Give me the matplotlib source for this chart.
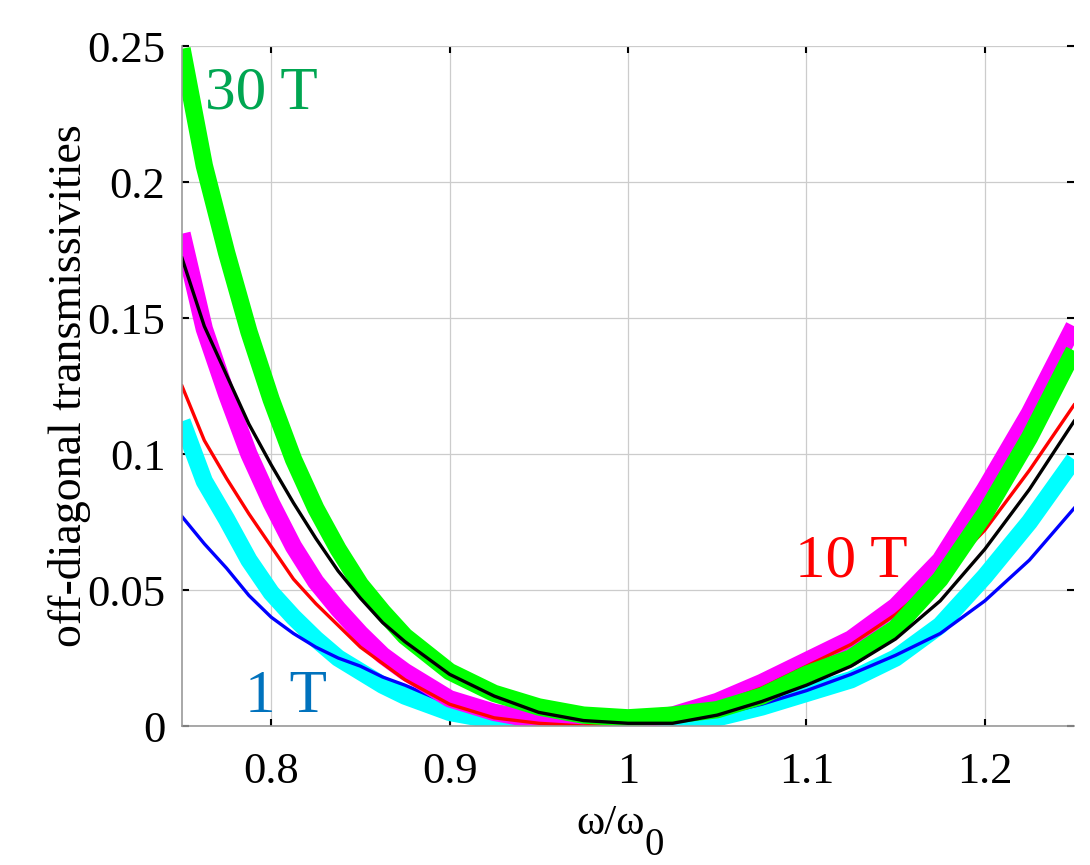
import numpy as np
import matplotlib
matplotlib.use('Agg')
import matplotlib.pyplot as plt

plt.rcParams['font.family'] = ['Liberation Serif', 'DejaVu Serif']

# normalised frequency w/w0
w = [0.75, 0.7625, 0.775, 0.7875, 0.8, 0.8125, 0.825, 0.8375, 0.85, 0.8625, 0.875,
     0.9, 0.925, 0.95, 0.975, 1.0, 1.025, 1.05, 1.075, 1.1, 1.125, 1.15, 1.175,
     1.2, 1.225, 1.25]

# off-diagonal transmissivities
blue = [0.077, 0.067, 0.058, 0.048, 0.040, 0.034, 0.029, 0.025, 0.022, 0.018, 0.015,
        0.008, 0.004, 0.002, 0.001, 0.001, 0.002, 0.004, 0.008, 0.013, 0.019, 0.026,
        0.034, 0.046, 0.061, 0.080]
cyan = [0.112, 0.090, 0.076, 0.061, 0.049, 0.040, 0.032, 0.025, 0.020, 0.015, 0.011,
        0.005, 0.002, 0.000, 0.000, 0.000, 0.001, 0.003, 0.007, 0.012, 0.017, 0.025,
        0.037, 0.055, 0.075, 0.098]
red = [0.125, 0.105, 0.091, 0.078, 0.066, 0.054, 0.045, 0.037, 0.029, 0.023, 0.017,
       0.008, 0.003, 0.001, 0.000, 0.001, 0.003, 0.008, 0.014, 0.022, 0.030, 0.041,
       0.055, 0.072, 0.094, 0.118]
magenta = [0.181, 0.146, 0.122, 0.100, 0.082, 0.066, 0.053, 0.043, 0.034, 0.026, 0.020,
           0.010, 0.005, 0.002, 0.001, 0.002, 0.004, 0.009, 0.016, 0.024, 0.032, 0.044,
           0.061, 0.087, 0.115, 0.147]
black = [0.172, 0.147, 0.129, 0.111, 0.096, 0.082, 0.069, 0.057, 0.047, 0.038, 0.031,
         0.019, 0.011, 0.005, 0.002, 0.001, 0.001, 0.004, 0.009, 0.015, 0.022, 0.032,
         0.046, 0.065, 0.087, 0.112]
green = [0.249, 0.206, 0.174, 0.145, 0.120, 0.098, 0.080, 0.065, 0.052, 0.042, 0.033,
         0.020, 0.012, 0.007, 0.004, 0.003, 0.004, 0.006, 0.011, 0.019, 0.025, 0.036,
         0.054, 0.078, 0.106, 0.138]

xticks = [0.8, 0.9, 1.0, 1.1, 1.2]
xticklabels = ['0.8', '0.9', '1', '1.1', '1.2']
yticks = [0, 0.05, 0.1, 0.15, 0.2, 0.25]
yticklabels = ['0', '0.05', '0.1', '0.15', '0.2', '0.25']

fig = plt.figure(figsize=(10.9, 8.65), dpi=100)
ax = fig.add_axes([182/1090, 139/865, 892/1090, 680/865])

thick = 12.5
thin = 2.4
ax.plot(w, cyan, color='#00FFFF', lw=thick, solid_joinstyle='round', solid_capstyle='butt')
ax.plot(w, blue, color='#0000FF', lw=thin)
ax.plot(w, magenta, color='#FF00FF', lw=thick, solid_joinstyle='round', solid_capstyle='butt')
ax.plot(w, red, color='#FF0000', lw=thin)
ax.plot(w, green, color='#00FF00', lw=thick, solid_joinstyle='round', solid_capstyle='butt')
ax.plot(w, black, color='black', lw=thin)

ax.set_xlim(0.75, 1.25)
ax.set_ylim(0, 0.25)
ax.set_xticks(xticks)
ax.set_xticklabels(xticklabels)
ax.set_yticks(yticks)
ax.set_yticklabels(yticklabels)
ax.grid(True, color='#cccccc', lw=0.9)
ax.set_axisbelow(True)

ax.tick_params(direction='in', top=True, right=True, length=5, width=1.5,
               color='black', labelsize=32)
ax.tick_params(axis='x', pad=19)
ax.tick_params(axis='y', pad=12)
for s in ['top', 'right']:
    ax.spines[s].set_visible(False)
for s in ['left', 'bottom']:
    ax.spines[s].set_color('#999999')
    ax.spines[s].set_linewidth(1.2)

ax.set_ylabel('off-diagonal transmissivities', fontsize=33, labelpad=-3)
# x label with a full size, dropped subscript as in the original
fig.text(576/1090, 1 - 834/865, 'ω/ω', fontsize=31, ha='left', va='baseline')
fig.text(644/1090, 1 - 855/865, '0', fontsize=28, ha='left', va='baseline')

ax.text(0.7629, 0.2272, '30 T', color='#00A651', fontsize=44)
ax.text(1.0936, 0.0548, '10 T', color='#FF0000', fontsize=44)
ax.text(0.7853, 0.0053, '1 T', color='#0072BD', fontsize=44)

fig.savefig('out.png', dpi=100)
